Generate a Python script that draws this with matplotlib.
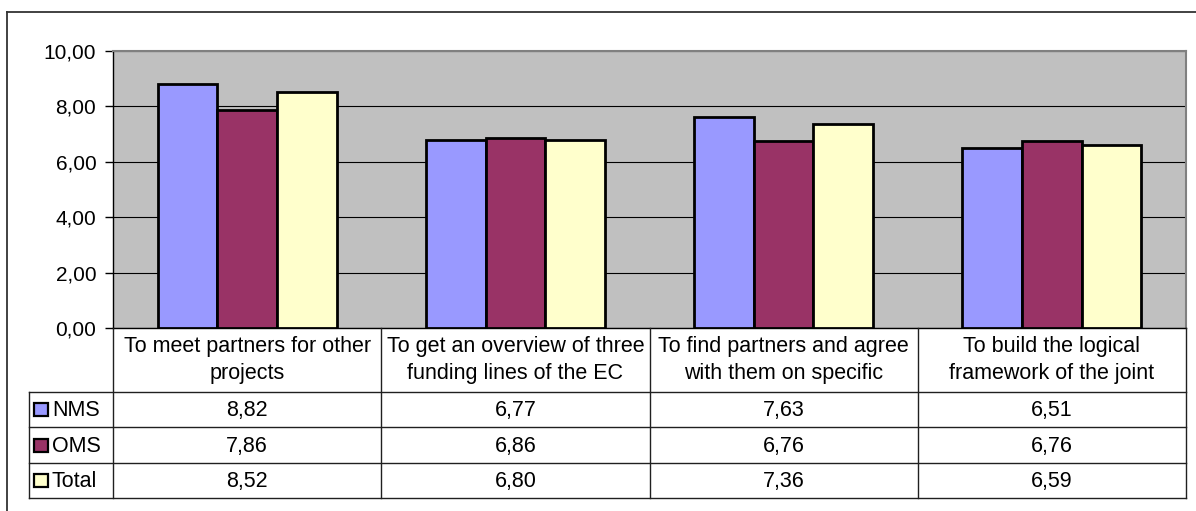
import numpy as np
import matplotlib.pyplot as plt
from matplotlib.patches import Rectangle

plt.rcParams['font.family'] = ['Liberation Sans', 'DejaVu Sans']

categories = ["To meet partners for other\nprojects",
              "To get an overview of three\nfunding lines of the EC",
              "To find partners and agree\nwith them on specific",
              "To build the logical\nframework of the joint"]
series = ["NMS", "OMS", "Total"]
nms = [8.82, 6.77, 7.63, 6.51]
oms = [7.86, 6.86, 6.76, 6.76]
total = [8.52, 6.80, 7.36, 6.59]
colors = ["#9999FF", "#993366", "#FFFFCC"]

W, H = 1196, 511
fig = plt.figure(figsize=(W / 100, H / 100), dpi=100)

# pixel layout of the plot area
px_left, px_right, px_top, px_bot = 113, 1186, 51, 328
ax = fig.add_axes([px_left / W, 1 - px_bot / H, (px_right - px_left) / W, (px_bot - px_top) / H])
ax.set_facecolor("#C0C0C0")

values = [nms, oms, total]
n = len(categories)
bw = 1 / 4.5
x = np.arange(n) + 0.5
for i, (vals, c) in enumerate(zip(values, colors)):
    ax.bar(x + (i - 1) * bw, vals, width=bw, color=c, edgecolor="black", linewidth=2, zorder=3)

ax.set_xlim(0, n)
ax.set_ylim(0, 10)
ax.set_yticks(np.arange(0, 11, 2))
ax.set_yticklabels([f"{v:.2f}".replace(".", ",") for v in np.arange(0, 11, 2)], fontsize=15)
ax.yaxis.grid(True, color="black", linewidth=0.8, zorder=1)
ax.set_axisbelow(True)
ax.tick_params(axis="y", length=6, width=1, pad=6)
ax.set_xticks([])
for s in ["top", "right"]:
    ax.spines[s].set_color("#808080")
    ax.spines[s].set_linewidth(1.5)
ax.spines["left"].set_linewidth(1)
ax.spines["bottom"].set_linewidth(1)

# overlay in pixel coordinates for the data table and frame
ov = fig.add_axes([0, 0, 1, 1])
ov.set_xlim(0, W)
ov.set_ylim(H, 0)
ov.axis("off")
ov.patch.set_alpha(0)

ov.plot([7, W], [12, 12], color="#333333", lw=1.3)
ov.plot([7, 7], [12, H], color="#333333", lw=1.3)

leg_left = 29
hdr_bot = 392
row_h = 35.5
col_w = (px_right - px_left) / n
lc = "#202020"
tbl_bot = hdr_bot + len(series) * row_h

# horizontal lines
for k in range(len(series) + 1):
    yy = hdr_bot + k * row_h
    ov.plot([leg_left, px_right], [yy, yy], color=lc, lw=1)
# vertical lines
for j in range(1, n):
    xx = px_left + j * col_w
    ov.plot([xx, xx], [px_bot, tbl_bot], color=lc, lw=1)
ov.plot([px_left, px_left], [px_bot, tbl_bot], color=lc, lw=1)
ov.plot([px_right, px_right], [px_bot, tbl_bot], color=lc, lw=1)
ov.plot([leg_left, leg_left], [hdr_bot, tbl_bot], color=lc, lw=1)

for j, cat in enumerate(categories):
    ov.text(px_left + (j + 0.5) * col_w, (px_bot + hdr_bot) / 2, cat, ha="center", va="center",
            fontsize=15.5, linespacing=1.35)

for i, (name, vals, c) in enumerate(zip(series, values, colors)):
    yc = hdr_bot + (i + 0.5) * row_h
    ov.add_patch(Rectangle((34, yc - 6.5), 14, 13, facecolor=c, edgecolor="black", linewidth=1.6))
    ov.text(52, yc + 1, name, ha="left", va="center", fontsize=15.5)
    for j, v in enumerate(vals):
        ov.text(px_left + (j + 0.5) * col_w, yc + 1, f"{v:.2f}".replace(".", ","), ha="center", va="center",
                fontsize=15.5)

fig.savefig("out.png", dpi=100)
